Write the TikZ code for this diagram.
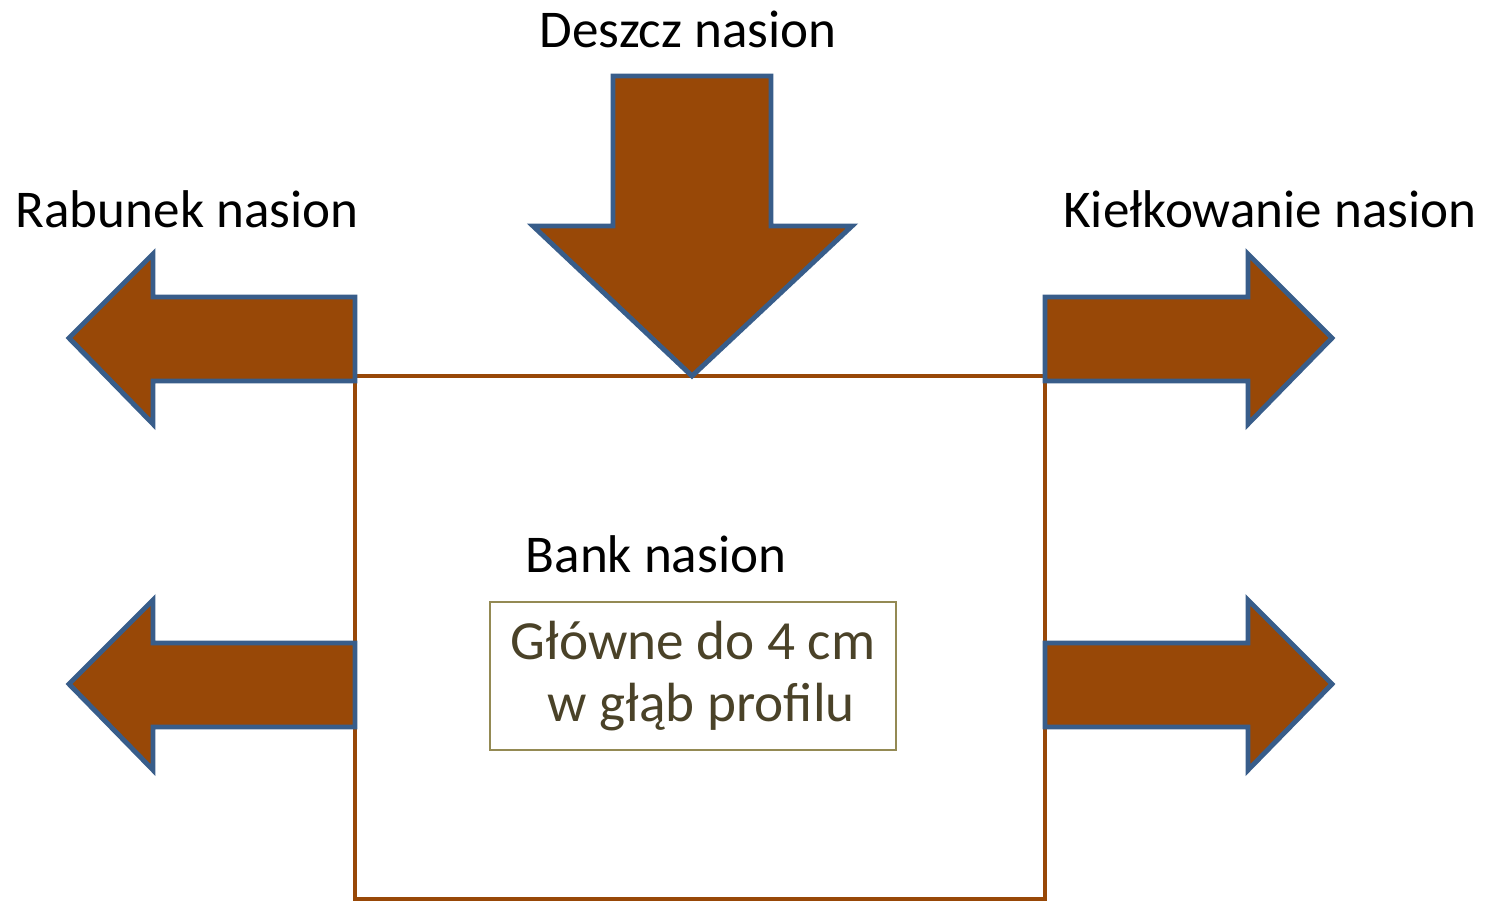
\documentclass[tikz,border=0pt]{standalone}
\usepackage{fontspec}
\setmainfont{Carlito}
\definecolor{seedbrown}{HTML}{984807}
\definecolor{seedblue}{HTML}{385D8A}
\definecolor{olivetext}{HTML}{4A4228}
\definecolor{oliveline}{HTML}{948A54}
\tikzset{
    flow/.style={fill=seedbrown, draw=seedblue, line width=1.4pt, line join=miter},
    label/.style={font=\fontsize{15.1}{17.5}\selectfont, inner sep=0pt}
}
\begin{document}
\begin{tikzpicture}[x=0.01cm, y=-0.01cm]
    \useasboundingbox (0,0) rectangle (1488,900);

    % seed bank
    \draw[seedbrown, line width=1.1pt] (355,376) rectangle (1045,899);
    \node[label] (bank) at (656,554) {Bank nasion};
    \node[draw=oliveline, line width=0.6pt, text=olivetext, minimum width=4.06cm, minimum height=1.48cm,
          align=center, font=\fontsize{15.7}{17.6}\selectfont] (depth) at (693,676) {Główne do 4 cm\\ \hspace*{0.3em}w głąb profilu};

    % seed rain
    \draw[flow] (613,76) -- (771,76) -- (771,226) -- (852,226) -- (692,376)
        -- (533,226) -- (613,226) -- cycle;
    \node[label] (rain) at (688,29) {Deszcz nasion};

    % outgoing flows
    \foreach \y in {338,684} {
        \draw[flow] (355,\y-41) -- (153,\y-41) -- (153,\y-84) -- (69,\y)
            -- (153,\y+86) -- (153,\y+43) -- (355,\y+43) -- cycle;
        \draw[flow] (1045,\y-41) -- (1248,\y-41) -- (1248,\y-84) -- (1332,\y)
            -- (1248,\y+86) -- (1248,\y+43) -- (1045,\y+43) -- cycle;
    }
    \node[label, anchor=west] (theft) at (15,209) {Rabunek nasion};
    \node[label, anchor=east] (germ) at (1477,209) {Kiełkowanie nasion};
\end{tikzpicture}
\end{document}
